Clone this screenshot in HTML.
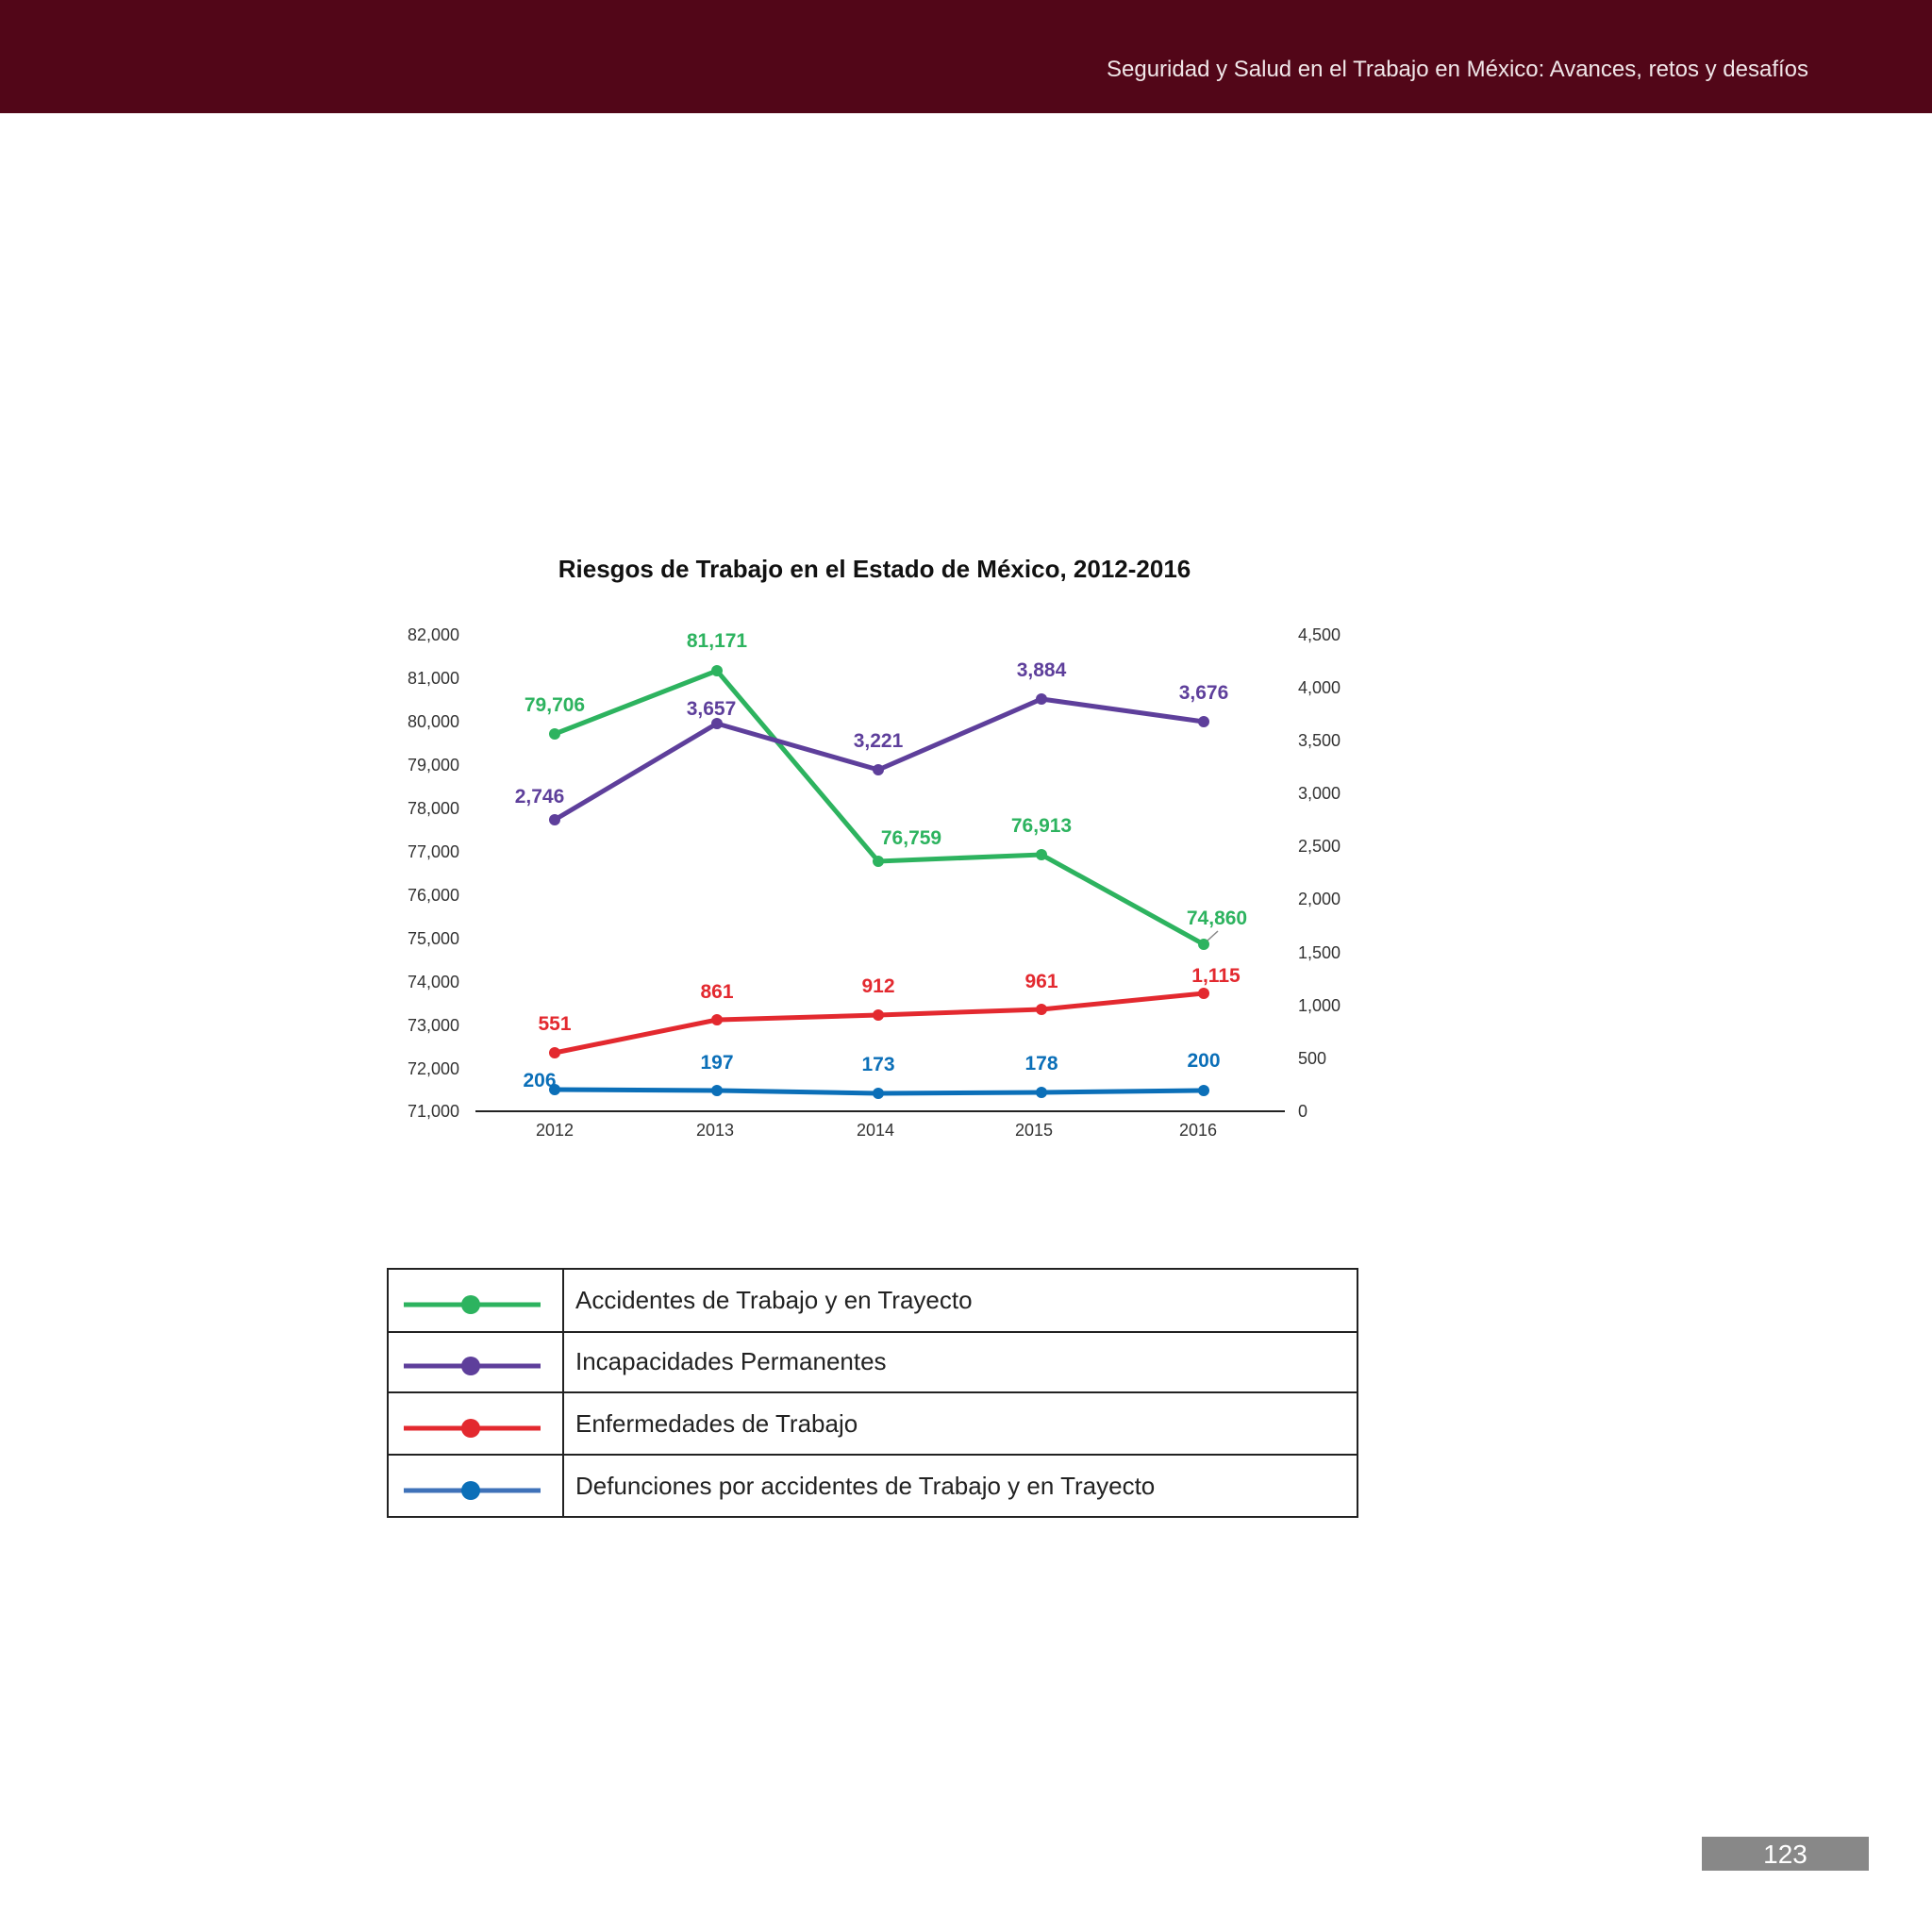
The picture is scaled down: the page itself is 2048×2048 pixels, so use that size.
<!DOCTYPE html>
<html><head><meta charset="utf-8"><style>
body{margin:0;width:2048px;height:2048px;background:#fff;position:relative;font-family:"Liberation Sans",sans-serif;overflow:hidden}
.hdr{position:absolute;left:0;top:0;width:2048px;height:120px;background:#520618}
.hdr span{position:absolute;right:131px;top:60px;color:#f0e6e8;font-size:24px}
.pg{position:absolute;left:1804px;top:1947px;width:177px;height:36px;background:#888;color:#fff;font-size:28px;text-align:center;line-height:38px}
</style></head><body>
<div class="hdr"><span>Seguridad y Salud en el Trabajo en México: Avances, retos y desafíos</span></div>
<svg width="2048" height="2048" style="position:absolute;left:0;top:0" font-family="Liberation Sans, sans-serif">
<text x="927" y="612" text-anchor="middle" font-size="26" font-weight="bold" fill="#111">Riesgos de Trabajo en el Estado de México, 2012-2016</text>
<g font-size="18" fill="#333" text-anchor="end">
<text x="487" y="679">82,000</text><text x="487" y="725">81,000</text><text x="487" y="771">80,000</text><text x="487" y="817">79,000</text><text x="487" y="863">78,000</text><text x="487" y="909">77,000</text><text x="487" y="955">76,000</text><text x="487" y="1001">75,000</text><text x="487" y="1047">74,000</text><text x="487" y="1093">73,000</text><text x="487" y="1139">72,000</text><text x="487" y="1184">71,000</text>
</g>
<g font-size="18" fill="#333">
<text x="1376" y="679">4,500</text><text x="1376" y="735">4,000</text><text x="1376" y="791">3,500</text><text x="1376" y="847">3,000</text><text x="1376" y="903">2,500</text><text x="1376" y="959">2,000</text><text x="1376" y="1016">1,500</text><text x="1376" y="1072">1,000</text><text x="1376" y="1128">500</text><text x="1376" y="1184">0</text>
</g>
<line x1="504" y1="1178" x2="1362" y2="1178" stroke="#222" stroke-width="2"/>
<g font-size="18" fill="#333" text-anchor="middle">
<text x="588" y="1204">2012</text><text x="758" y="1204">2013</text><text x="928" y="1204">2014</text><text x="1096" y="1204">2015</text><text x="1270" y="1204">2016</text>
</g>
<g stroke-width="5" fill="none">
<polyline stroke="#2db35f" points="588,778 760,711 931,913 1104,906 1276,1001"/>
<polyline stroke="#5e3f9b" points="588,869 760,767 931,816 1104,741 1276,765"/>
<polyline stroke="#e3292f" points="588,1116 760,1081 931,1076 1104,1070 1276,1053"/>
<polyline stroke="#0b6fb8" points="588,1155 760,1156 931,1159 1104,1158 1276,1156"/>
</g>
<g fill="#2db35f"><circle cx="588" cy="778" r="6"/><circle cx="760" cy="711" r="6"/><circle cx="931" cy="913" r="6"/><circle cx="1104" cy="906" r="6"/><circle cx="1276" cy="1001" r="6"/></g>
<g fill="#5e3f9b"><circle cx="588" cy="869" r="6"/><circle cx="760" cy="767" r="6"/><circle cx="931" cy="816" r="6"/><circle cx="1104" cy="741" r="6"/><circle cx="1276" cy="765" r="6"/></g>
<g fill="#e3292f"><circle cx="588" cy="1116" r="6"/><circle cx="760" cy="1081" r="6"/><circle cx="931" cy="1076" r="6"/><circle cx="1104" cy="1070" r="6"/><circle cx="1276" cy="1053" r="6"/></g>
<g fill="#0b6fb8"><circle cx="588" cy="1155" r="6"/><circle cx="760" cy="1156" r="6"/><circle cx="931" cy="1159" r="6"/><circle cx="1104" cy="1158" r="6"/><circle cx="1276" cy="1156" r="6"/></g>
<line x1="1280" y1="997" x2="1291" y2="987" stroke="#888" stroke-width="1.5"/>
<g font-size="21" font-weight="bold" text-anchor="middle">
<g fill="#2db35f"><text x="588" y="754">79,706</text><text x="760" y="686">81,171</text><text x="966" y="895">76,759</text><text x="1104" y="882">76,913</text><text x="1290" y="980">74,860</text></g>
<g fill="#5e3f9b"><text x="572" y="851">2,746</text><text x="754" y="758">3,657</text><text x="931" y="792">3,221</text><text x="1104" y="717">3,884</text><text x="1276" y="741">3,676</text></g>
<g fill="#e3292f"><text x="588" y="1092">551</text><text x="760" y="1058">861</text><text x="931" y="1052">912</text><text x="1104" y="1047">961</text><text x="1289" y="1041">1,115</text></g>
<g fill="#0b6fb8"><text x="572" y="1152">206</text><text x="760" y="1133">197</text><text x="931" y="1135">173</text><text x="1104" y="1134">178</text><text x="1276" y="1131">200</text></g>
</g>
<g stroke="#222" stroke-width="2" fill="none">
<rect x="411" y="1345" width="1028" height="263"/>
<line x1="411" y1="1412" x2="1439" y2="1412"/><line x1="411" y1="1476" x2="1439" y2="1476"/><line x1="411" y1="1542" x2="1439" y2="1542"/>
<line x1="597" y1="1345" x2="597" y2="1608"/>
</g>
<g stroke-width="5">
<line x1="428" y1="1383" x2="573" y2="1383" stroke="#2db35f"/><circle cx="499" cy="1383" r="10" fill="#2db35f"/>
<line x1="428" y1="1448" x2="573" y2="1448" stroke="#5e3f9b"/><circle cx="499" cy="1448" r="10" fill="#5e3f9b"/>
<line x1="428" y1="1514" x2="573" y2="1514" stroke="#e3292f"/><circle cx="499" cy="1514" r="10" fill="#e3292f"/>
<line x1="428" y1="1580" x2="573" y2="1580" stroke="#3f72b9"/><circle cx="499" cy="1580" r="10" fill="#0b6fb8"/>
</g>
<g font-size="26" fill="#222">
<text x="610" y="1387">Accidentes de Trabajo y en Trayecto</text>
<text x="610" y="1452">Incapacidades Permanentes</text>
<text x="610" y="1518">Enfermedades de Trabajo</text>
<text x="610" y="1584">Defunciones por accidentes de Trabajo y en Trayecto</text>
</g>
</svg>
<div class="pg">123</div>
</body></html>
